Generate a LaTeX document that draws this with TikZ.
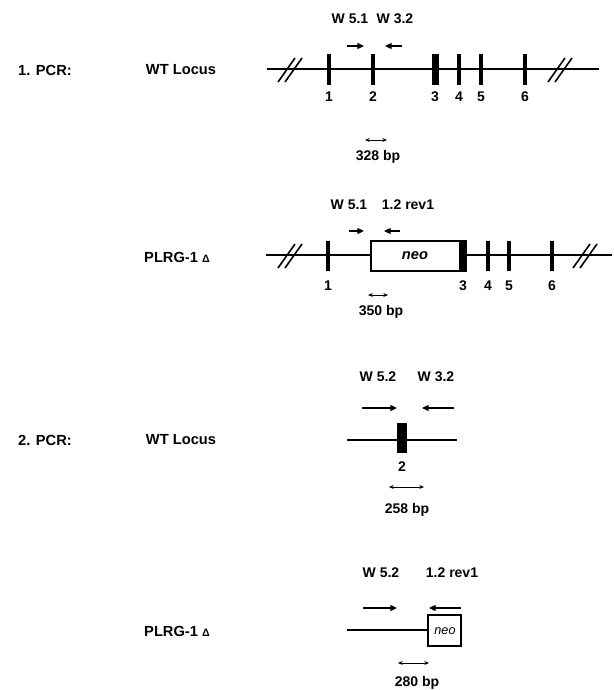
\documentclass[tikz,border=0pt]{standalone}
\usepackage{fontspec}
\setmainfont{Liberation Sans}
\usetikzlibrary{arrows.meta}
\newcommand\brkmark[2]{%
  \draw[brk] (#1-12,#2+12) -- (#1+5,#2-12);
  \draw[brk] (#1-5,#2+12) -- (#1+12,#2-12);}
\begin{document}
\begin{tikzpicture}[x=0.75pt,y=-0.75pt,
  title/.style={font=\fontsize{11}{13}\selectfont\bfseries, inner sep=0},
  lbl/.style={font=\fontsize{10.5}{12}\selectfont\bfseries, inner sep=0},
  dna/.style={line width=2.2pt},
  exon/.style={fill=black},
  primer/.style={line width=0.9pt, -{Triangle[length=5pt,width=4.5pt]}},
  sizebar/.style={line width=0.6pt, {Stealth[length=3.5pt,width=3pt]}-{Stealth[length=3.5pt,width=3pt]}},
  brk/.style={line width=1.2pt},
  neobox/.style={draw, line width=1pt, fill=white},
]
\useasboundingbox (0,0) rectangle (614,690);
% ---------- Row 1 ----------
\node[title] (pcr1) at (45,70) {1. PCR:};
\node[title] (wt1) at (181,70) {WT Locus};
\draw[dna] (267,69) -- (599,69);
\brkmark{290}{70}
\brkmark{560}{70}
\fill[exon] (327,54) rectangle (331,85);
\fill[exon] (371,54) rectangle (375,85);
\fill[exon] (432,54) rectangle (439,85);
\fill[exon] (457,54) rectangle (461,85);
\fill[exon] (479,54) rectangle (483,85);
\fill[exon] (523,54) rectangle (527,85);
\node[lbl] (e1a) at (329,97) {1};
\node[lbl] (e2a) at (373,97) {2};
\node[lbl] (e3a) at (435,97) {3};
\node[lbl] (e4a) at (459,97) {4};
\node[lbl] (e5a) at (481,97) {5};
\node[lbl] (e6a) at (525,97) {6};
\node[lbl] (pa1) at (350,19) {W 5.1};
\node[lbl] (pa2) at (395,19) {W 3.2};
\coordinate (fa1) at (347,46); \coordinate (fa2) at (364,46);
\coordinate (ra1) at (402,46); \coordinate (ra2) at (385,46);
\draw[primer] (fa1) -- (fa2);
\draw[primer] (ra1) -- (ra2);
\coordinate (sa1) at (365,140); \coordinate (sa2) at (387,140);
\draw[sizebar] (sa1) -- (sa2);
\node[lbl] (bpa) at (378,157) {328 bp};
% ---------- Row 2 ----------
\node[title] (ko1) at (177,257) {PLRG-1 {\fontsize{8}{9}\selectfont Δ}};
\draw[dna] (266,255) -- (612,255);
\brkmark{290}{256}
\brkmark{585}{256}
\fill[exon] (326,241) rectangle (330,271);
\draw[neobox] (371,241) rectangle (460,271);
\node[font=\fontsize{11}{13}\selectfont\bfseries\itshape, inner sep=0] (neo1) at (415,256) {neo};
\fill[exon] (460,240) rectangle (467,272);
\fill[exon] (486,241) rectangle (490,271);
\fill[exon] (507,241) rectangle (511,271);
\fill[exon] (550,241) rectangle (554,271);
\node[lbl] (e1b) at (328,286) {1};
\node[lbl] (e3b) at (463,286) {3};
\node[lbl] (e4b) at (488,286) {4};
\node[lbl] (e5b) at (509,286) {5};
\node[lbl] (e6b) at (552,286) {6};
\node[lbl] (pb1) at (349,205) {W 5.1};
\node[lbl] (pb2) at (408,205) {1.2 rev1};
\coordinate (fb1) at (349,231); \coordinate (fb2) at (364,231);
\coordinate (rb1) at (400,231); \coordinate (rb2) at (384,231);
\draw[primer] (fb1) -- (fb2);
\draw[primer] (rb1) -- (rb2);
\coordinate (sb1) at (368,295); \coordinate (sb2) at (388,295);
\draw[sizebar] (sb1) -- (sb2);
\node[lbl] (bpb) at (381,312) {350 bp};
% ---------- Row 3 ----------
\node[title] (pcr2) at (45,440) {2. PCR:};
\node[title] (wt2) at (181,440) {WT Locus};
\node[lbl] (pc1) at (378,377) {W 5.2};
\node[lbl] (pc2) at (436,377) {W 3.2};
\coordinate (fc1) at (362,408); \coordinate (fc2) at (397,408);
\coordinate (rc1) at (454,408); \coordinate (rc2) at (422,408);
\draw[primer] (fc1) -- (fc2);
\draw[primer] (rc1) -- (rc2);
\draw[dna] (347,440) -- (457,440);
\fill[exon] (397,423) rectangle (407,453);
\node[lbl] (e2c) at (402,467) {2};
\coordinate (sc1) at (389,487); \coordinate (sc2) at (424,487);
\draw[sizebar] (sc1) -- (sc2);
\node[lbl] (bpc) at (407,510) {258 bp};
% ---------- Row 4 ----------
\node[title] (ko2) at (177,631) {PLRG-1 {\fontsize{8}{9}\selectfont Δ}};
\node[lbl] (pd1) at (381,573) {W 5.2};
\node[lbl] (pd2) at (452,573) {1.2 rev1};
\coordinate (fd1) at (363,608); \coordinate (fd2) at (397,608);
\coordinate (rd1) at (461,608); \coordinate (rd2) at (429,608);
\draw[primer] (fd1) -- (fd2);
\draw[primer] (rd1) -- (rd2);
\draw[dna] (347,630) -- (428,630);
\draw[neobox] (428,615) rectangle (461,646);
\node[font=\fontsize{9.5}{11}\selectfont\itshape, inner sep=0] (neo2) at (445,631) {neo};
\coordinate (sd1) at (398,663); \coordinate (sd2) at (429,663);
\draw[sizebar] (sd1) -- (sd2);
\node[lbl] (bpd) at (417,683) {280 bp};
\end{tikzpicture}
\end{document}
